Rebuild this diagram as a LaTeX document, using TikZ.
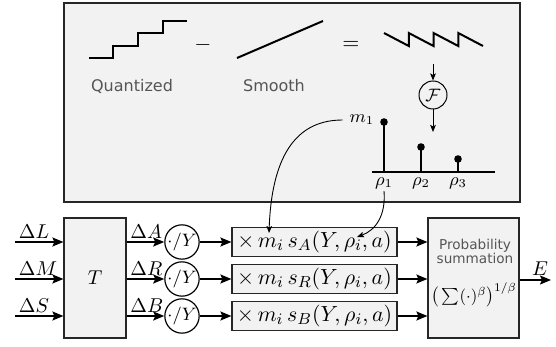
\documentclass[tikz,border=0pt]{standalone}
\usepackage{fontspec}
\usepackage{graphicx}
\newfontfamily\labelfont{DejaVu Sans}
\usetikzlibrary{arrows.meta}
\definecolor{panelgray}{HTML}{F2F2F2}
\definecolor{textgray}{HTML}{555555}

\begin{document}
\begin{tikzpicture}[x=0.5pt,y=-0.5pt,>=Stealth,
    box/.style={draw=black!85,line width=0.6pt,fill=panelgray,inner sep=0pt},
    big/.style={font=\fontsize{10}{12}\selectfont},
    kernel/.style={font=\fontsize{11}{13}\selectfont},
    small/.style={font=\fontsize{9}{11}\selectfont},
    caption/.style={font=\labelfont\fontsize{8}{10}\selectfont,text=textgray},
    flow/.style={-{Stealth[length=5.5pt,width=4.5pt,inset=1pt]},line width=0.85pt},
    fine/.style={-{Stealth[length=3.5pt,width=2.8pt,inset=0.7pt]},line width=0.4pt},
    curve/.style={-{Stealth[length=3.5pt,width=2.8pt,inset=0.7pt]},line width=0.45pt},
    signal/.style={line width=1pt,line join=miter}]
  \useasboundingbox (0,0) rectangle (556,347);

  % upper panel: quantized minus smooth
  \draw[box] (64,3) rectangle (520,202);
  \draw[signal] (89,58) -| (113,46) -| (138,33) -| (163,21) -- (187,21);
  \node[kernel] (minus) at (203,45) {$-$};
  \draw[signal] (237,58) -- (323,21);
  \node[kernel] (equals) at (351,45) {$=$};
  \draw[signal] (384,33)
    \foreach \k in {1,2,3} {-- ({384+24.75*\k},46) -- ({384+24.75*\k},33)}
    -- (483,46);
  \node[caption] (quant) at (132,86) {Quantized};
  \node[caption] (smooth) at (274,86) {Smooth};

  % spectrum
  \coordinate (sawbot) at (433,64);
  \node[draw,circle,line width=0.5pt,minimum size=14pt,inner sep=0pt,small]
    (fourier) at (433,95) {$\mathcal{F}$};
  \coordinate (spectop) at (433,132);
  \draw[fine] (sawbot) -- (fourier.north);
  \draw[fine] (fourier.south) -- (spectop);
  \draw[line width=0.6pt] (372,172) -- (495,172);
  \foreach \x/\h/\i in {384/122/1,421/147/2,458/159/3} {
    \draw[line width=0.8pt] (\x,172) -- (\x,\h);
    \fill (\x,\h) circle (1.9pt);
    \node[small,anchor=north,inner sep=1pt] (rho\i) at (\x,175) {$\rho_\i$};
  }
  \node[small] (m1) at (362,120) {$m_1$};

  % lower chain
  \node[box,minimum width=31pt,minimum height=60pt,big] (T) at (95,278) {$T$};
  \foreach \c/\y/\a/\b/\s in {A/242/L/A/A,R/279/M/R/R,B/316/S/B/B} {
    \coordinate (in\c) at (15,\y);
    \node[draw,circle,line width=0.6pt,minimum size=15.5pt,inner sep=0pt,
      font=\fontsize{9}{11}\selectfont] (div\c) at (182,\y) {$\cdot/Y$};
    \node[box,minimum width=82.5pt,minimum height=14.5pt,kernel]
      (s\c) at (314.5,\y) {$\times\, m_i\, s_{\s}(Y,\rho_i,a)$};
    \draw[flow] (in\c) -- node[pos=0,anchor=south west,inner sep=1.5pt,big]
      {$\Delta \a$} (in\c -| T.west);
    \draw[flow] (T.east |- in\c) -- node[pos=0,anchor=south west,inner sep=1.5pt,big]
      {$\Delta \b$} (div\c);
    \draw[flow] (div\c) -- (s\c);
  }
  \node[box,minimum width=45.5pt,minimum height=60pt] (sum) at (473.5,278) {};
  \node[caption,font=\labelfont\fontsize{6.8}{6.6}\selectfont,align=center]
    (sumtxt) at (475,251.5) {Probability\\summation};
  \node[inner sep=0pt] (sumf) at (474,295)
    {\scalebox{0.84}{$\big(\sum(\cdot)^{\beta}\big)^{1/\beta}$}};
  \foreach \c in {A,R,B}
    \draw[flow] (s\c) -- (s\c -| sum.west);
  \coordinate (out) at (551,280);
  \draw[flow] (sum.east |- out) -- node[above,pos=0.65,inner sep=2pt,big] {$E$} (out);

  % weights fed to the kernels
  \coordinate (mi) at (269,233);
  \coordinate (rhoi) at (357,237);
  \draw[curve] (m1.west) .. controls (300,120) and (272,150) .. (mi);
  \draw[curve] (rho1.south) .. controls (386,215) and (376,230) .. (rhoi);
\end{tikzpicture}
\end{document}
